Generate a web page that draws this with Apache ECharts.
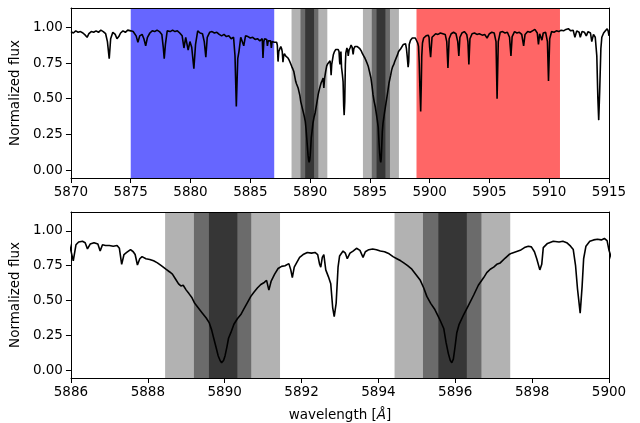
<!DOCTYPE html>
<html><head><meta charset="utf-8">
<script src="https://cdn.jsdelivr.net/npm/echarts@6/dist/echarts.min.js"></script>
<style>html,body{margin:0;padding:0;background:#fff}#c{width:640px;height:423px}</style>
</head><body><div id="c"></div>
<script>
// wavelength [Å]
const wl = [
5870.0,5870.2,5870.4,5870.6,5870.8,5871.0,5871.2,5871.35,5871.5,5871.7,5871.9,5872.1,5872.3,5872.5,5872.7,5872.9,
5873.05,5873.2,5873.32,5873.5,5873.7,5873.85,5874.0,5874.15,5874.35,5874.55,5874.75,5875.0,5875.2,5875.45,5875.6,
5875.75,5875.95,5876.1,5876.25,5876.4,5876.6,5876.8,5877.0,5877.2,5877.4,5877.6,5877.72,5877.8,5877.9,5878.05,5878.3,
5878.5,5878.7,5878.9,5879.1,5879.3,5879.45,5879.6,5879.8,5879.95,5880.1,5880.28,5880.42,5880.6,5880.8,5881.0,5881.15,
5881.28,5881.4,5881.6,5881.8,5882.0,5882.2,5882.4,5882.6,5882.8,5883.0,5883.2,5883.4,5883.6,5883.72,5883.83,5883.95,
5884.05,5884.2,5884.35,5884.45,5884.6,5884.8,5885.0,5885.2,5885.4,5885.6,5885.8,5885.95,5886.0,5886.06,5886.13,5886.2,
5886.3,5886.37,5886.43,5886.5,5886.6,5886.7,5886.76,5886.82,5886.9,5887.0,5887.1,5887.2,5887.26,5887.32,5887.38,5887.45,
5887.55,5887.62,5887.67,5887.73,5887.79,5887.85,5887.95,5888.05,5888.15,5888.25,5888.35,5888.47,5888.57,5888.64,5888.72,
5888.8,5888.86,5888.92,5889.0,5889.07,5889.15,5889.22,5889.32,5889.42,5889.52,5889.6,5889.66,5889.72,5889.78,5889.83,
5889.88,5889.92,5889.97,5890.01,5890.06,5890.1,5890.16,5890.24,5890.33,5890.42,5890.5,5890.58,5890.68,5890.76,5890.85,
5890.94,5891.03,5891.09,5891.15,5891.21,5891.3,5891.39,5891.48,5891.57,5891.67,5891.72,5891.76,5891.81,5891.87,5891.95,
5892.04,5892.15,5892.26,5892.35,5892.42,5892.47,5892.5,5892.54,5892.58,5892.63,5892.7,5892.76,5892.81,5892.85,5892.9,
5892.95,5892.99,5893.08,5893.14,5893.19,5893.26,5893.34,5893.43,5893.52,5893.6,5893.66,5893.75,5893.85,5893.95,5894.05,
5894.16,5894.28,5894.38,5894.48,5894.58,5894.66,5894.76,5894.87,5894.98,5895.09,5895.18,5895.26,5895.36,5895.46,5895.55,
5895.62,5895.7,5895.76,5895.82,5895.87,5895.91,5895.95,5895.99,5896.04,5896.1,5896.22,5896.35,5896.48,5896.6,5896.74,
5896.82,5896.91,5897.0,5897.08,5897.17,5897.3,5897.4,5897.47,5897.58,5897.69,5897.8,5897.9,5897.98,5898.06,5898.12,
5898.2,5898.25,5898.29,5898.4,5898.55,5898.7,5898.8,5898.9,5899.0,5899.07,5899.13,5899.18,5899.25,5899.3,5899.34,
5899.4,5899.5,5899.6,5899.7,5899.8,5899.88,5899.95,5900.0,5900.08,5900.2,5900.3,5900.5,5900.7,5900.9,5901.1,5901.3,
5901.43,5901.53,5901.63,5901.8,5902.0,5902.2,5902.35,5902.44,5902.53,5902.7,5902.9,5903.1,5903.2,5903.28,5903.37,
5903.55,5903.75,5903.95,5904.15,5904.4,5904.6,5904.8,5905.0,5905.2,5905.4,5905.55,5905.64,5905.74,5905.9,5906.1,
5906.3,5906.5,5906.68,5906.8,5906.9,5907.1,5907.3,5907.5,5907.7,5907.86,5907.98,5908.2,5908.4,5908.6,5908.8,5909.0,
5909.1,5909.2,5909.39,5909.5,5909.7,5909.85,5909.94,5910.04,5910.2,5910.4,5910.6,5910.8,5911.0,5911.2,5911.4,5911.6,
5911.8,5912.0,5912.15,5912.3,5912.5,5912.6,5912.75,5912.95,5913.1,5913.25,5913.45,5913.56,5913.7,5913.85,5913.98,
5914.07,5914.14,5914.22,5914.32,5914.4,5914.55,5914.7,5914.85,5914.93,5915.0
];
// normalized flux
const flux = [
0.97,0.96,0.975,0.965,0.97,0.96,0.945,0.93,0.955,0.97,0.965,0.975,0.965,0.98,0.97,0.955,
0.90,0.78,0.92,0.965,0.95,0.92,0.935,0.96,0.975,0.965,0.98,0.975,0.97,0.94,0.895,
0.94,0.95,0.92,0.87,0.93,0.96,0.975,0.97,0.98,0.97,0.95,0.86,0.78,0.88,0.975,0.97,
0.98,0.97,0.975,0.96,0.94,0.855,0.93,0.84,0.90,0.86,0.71,0.88,0.975,0.96,0.955,0.90,
0.79,0.93,0.965,0.97,0.96,0.965,0.95,0.94,0.95,0.935,0.94,0.92,0.93,0.80,0.445,0.78,
0.83,0.93,0.92,0.87,0.94,0.935,0.925,0.93,0.915,0.92,0.905,0.915,0.92,0.785,0.90,0.92,
0.925,0.915,0.87,0.905,0.915,0.905,0.855,0.90,0.895,0.895,0.89,0.895,0.875,0.76,0.83,0.845,
0.865,0.85,0.83,0.755,0.80,0.815,0.80,0.795,0.785,0.77,0.75,0.725,0.705,0.69,0.655,
0.62,0.605,0.61,0.575,0.55,0.52,0.48,0.445,0.41,0.375,0.34,0.29,0.225,0.16,0.105,
0.07,0.055,0.07,0.105,0.17,0.23,0.27,0.33,0.37,0.40,0.44,0.48,0.53,0.56,0.59,
0.615,0.63,0.645,0.575,0.64,0.69,0.73,0.745,0.75,0.765,0.72,0.665,0.74,0.77,0.81,
0.83,0.845,0.84,0.845,0.83,0.76,0.74,0.81,0.83,0.72,0.67,0.62,0.45,0.385,0.48,
0.74,0.82,0.855,0.84,0.80,0.84,0.855,0.875,0.86,0.81,0.85,0.865,0.87,0.865,0.855,
0.85,0.835,0.815,0.80,0.785,0.77,0.75,0.725,0.685,0.645,0.59,0.53,0.48,0.44,0.39,
0.35,0.30,0.20,0.12,0.07,0.055,0.08,0.16,0.27,0.33,0.40,0.47,0.54,0.61,0.665,
0.70,0.725,0.74,0.76,0.77,0.805,0.83,0.84,0.85,0.86,0.88,0.89,0.885,0.85,0.80,
0.72,0.76,0.88,0.91,0.925,0.92,0.925,0.915,0.89,0.866,0.75,0.585,0.41,0.60,0.80,
0.89,0.925,0.935,0.94,0.935,0.945,0.93,0.86,0.79,0.93,0.94,0.955,0.95,0.96,0.955,0.95,
0.90,0.715,0.92,0.955,0.965,0.955,0.90,0.80,0.93,0.96,0.97,0.95,0.90,0.74,0.92,
0.955,0.96,0.95,0.955,0.945,0.95,0.925,0.955,0.965,0.96,0.90,0.50,0.90,0.965,0.97,
0.96,0.965,0.93,0.80,0.935,0.97,0.96,0.965,0.95,0.87,0.95,0.97,0.965,0.975,0.985,0.96,
0.88,0.955,0.91,0.96,0.965,0.90,0.625,0.92,0.97,0.965,0.975,0.97,0.98,0.975,0.985,0.99,
0.975,0.98,0.93,0.975,0.965,0.93,0.97,0.965,0.94,0.97,0.96,0.90,0.95,0.93,0.80,
0.50,0.35,0.55,0.85,0.93,0.96,0.975,0.99,0.975,0.94
];
const yTicks = [0, 0.25, 0.5, 0.75, 1.0];
const topRange = [5870, 5915];
const bottomRange = [5886, 5900];
const blueBand = [5875, 5887];
const redBand = [5898.9, 5910.9];
const d2Light = [5888.45, 5891.44], d2Mid = [5889.2, 5890.69], d2Dark = [5889.59, 5890.33];
const d1Light = [5894.42, 5897.43], d1Mid = [5895.16, 5896.68], d1Dark = [5895.56, 5896.30];

const FONT = 'DejaVu Sans';
const FS = 13.5;
const yMin = -0.055, yMax = 1.135;
const data = wl.map((w, i) => [w, flux[i]]);

function band(r, color) {
  return [{xAxis: r[0], itemStyle: {color: color, opacity: 1}}, {xAxis: r[1]}];
}
const grayBands = [
  band(d2Light, '#b2b2b2'), band(d1Light, '#b2b2b2'),
  band(d2Mid, '#6b6b6b'), band(d1Mid, '#6b6b6b'),
  band(d2Dark, '#363636'), band(d1Dark, '#363636')
];

function xMain(grid, r, interval, name) {
  return {
    type: 'value', gridIndex: grid, position: 'bottom', min: r[0], max: r[1], interval: interval, z: 10,
    axisLine: {show: true, onZero: false, lineStyle: {color: '#000', width: 1}},
    axisTick: {show: true, length: 5, lineStyle: {color: '#000'}},
    axisLabel: {show: true, margin: 7, color: '#000', fontFamily: FONT, fontSize: FS, showMinLabel: true, showMaxLabel: true,
      formatter: v => String(Math.round(v))},
    splitLine: {show: false},
    name: name || '', nameLocation: 'middle', nameGap: 30,
    nameTextStyle: {color: '#000', fontFamily: FONT, fontSize: FS,
      rich: {i: {fontStyle: 'italic', fontFamily: FONT, fontSize: FS, color: '#000'}}}
  };
}
function xFrame(grid, r) {
  return {type: 'value', gridIndex: grid, position: 'top', min: r[0], max: r[1], z: 10,
    axisLine: {show: true, onZero: false, lineStyle: {color: '#000', width: 1}},
    axisTick: {show: false}, axisLabel: {show: false}, splitLine: {show: false}};
}
function yMain(grid) {
  return {
    type: 'value', gridIndex: grid, position: 'left', min: yMin, max: yMax, z: 10,
    axisLine: {show: true, onZero: false, lineStyle: {color: '#000', width: 1}},
    axisTick: {show: true, length: 5, lineStyle: {color: '#000'}, customValues: yTicks},
    axisLabel: {show: true, margin: 8, color: '#000', fontFamily: FONT, fontSize: FS, customValues: yTicks,
      formatter: v => Number(v).toFixed(2)},
    splitLine: {show: false},
    name: 'Normalized flux', nameLocation: 'middle', nameGap: 42,
    nameTextStyle: {color: '#000', fontFamily: FONT, fontSize: FS}
  };
}
function yFrame(grid) {
  return {type: 'value', gridIndex: grid, position: 'right', min: yMin, max: yMax, z: 10,
    axisLine: {show: true, onZero: false, lineStyle: {color: '#000', width: 1}},
    axisTick: {show: false}, axisLabel: {show: false}, splitLine: {show: false}};
}

const chart = echarts.init(document.getElementById('c'), null, {renderer: 'canvas'});
chart.setOption({
  animation: false,
  backgroundColor: '#fff',
  grid: [
    {left: 70, right: 31, top: 8, height: 170},
    {left: 70, right: 31, top: 212, height: 171}
  ],
  xAxis: [
    xMain(0, topRange, 5), xFrame(0, topRange),
    xMain(1, bottomRange, 2, 'wavelength [{i|Å}]'), xFrame(1, bottomRange)
  ],
  yAxis: [yMain(0), yFrame(0), yMain(1), yFrame(1)],
  series: [
    {type: 'line', xAxisIndex: 0, yAxisIndex: 0, data: [], z: 1, silent: true,
      markArea: {silent: true, data: [band(blueBand, '#6666ff'), band(redBand, '#ff6666')].concat(grayBands)}},
    {type: 'line', xAxisIndex: 0, yAxisIndex: 0, data: data, z: 3, showSymbol: false, silent: true,
      lineStyle: {color: '#000', width: 1.6}},
    {type: 'line', xAxisIndex: 2, yAxisIndex: 2, data: [], z: 1, silent: true,
      markArea: {silent: true, data: grayBands}},
    {type: 'line', xAxisIndex: 2, yAxisIndex: 2, data: data, z: 3, showSymbol: false, silent: true,
      lineStyle: {color: '#000', width: 1.6}}
  ]
});
</script></body></html>
